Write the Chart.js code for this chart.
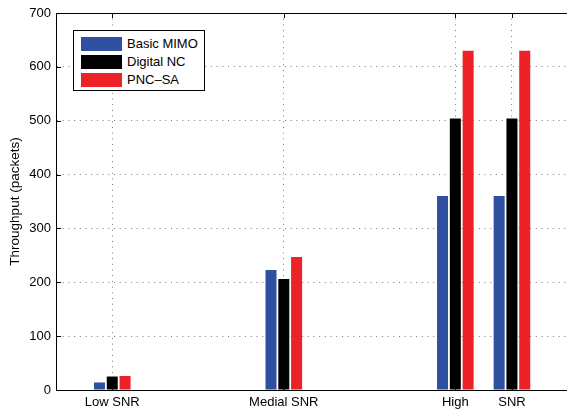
<!DOCTYPE html>
<html>
<head>
<meta charset="utf-8">
<script src="https://cdn.jsdelivr.net/npm/chart.js@4/dist/chart.umd.min.js"></script>
<style>
  body { margin: 0; background: #fff; }
  #wrap { position: relative; width: 567px; height: 412px; }
  #legend {
    position: absolute; left: 73px; top: 30px; width: 130px; height: 59px;
    border: 1px solid #000; background: #fff;
    font: 13px "Liberation Sans", Arial, sans-serif; color: #000;
  }
  #legend .item { position: absolute; left: 7px; height: 14px; }
  #legend .sw { position: absolute; left: 0; top: 0; width: 41px; height: 14px; }
  #legend .txt { position: absolute; left: 46px; top: -1px; white-space: nowrap; line-height: 16px; }
</style>
</head>
<body>
<div id="wrap">
  <canvas id="chart"></canvas>
  <div id="legend"></div>
</div>
<script>
// x positions of the groups and their labels
const groupLabels = ['Low SNR', 'Medial SNR', 'High', 'SNR'];
const groupX = [1, 2, 3, 3.33];

// throughput (packets)
const basicMimo = [14, 223, 360, 360];
const digitalNC = [25, 206, 504, 504];
const pncSa = [26, 247, 630, 630];

const seriesNames = ['Basic MIMO', 'Digital NC', 'PNC\u2013SA'];
const seriesColors = ['#2f4fa1', '#000000', '#ec2227'];

const yTicks = [0, 100, 200, 300, 400, 500, 600, 700];

const FONT = '"Liberation Sans", Arial, sans-serif';

function toPoints(values) {
  return values.map((v, i) => ({ x: groupX[i], y: v }));
}

// frame on top + small inward tick marks like matlab
const framePlugin = {
  id: 'frame',
  afterDraw(chart) {
    const { ctx, chartArea: a, scales } = chart;
    ctx.save();
    ctx.strokeStyle = '#000';
    ctx.lineWidth = 1;
    ctx.beginPath();
    ctx.moveTo(a.left, a.top + 0.5);
    ctx.lineTo(a.right, a.top + 0.5);
    scales.x.ticks.forEach((t, i) => {
      const px = Math.round(scales.x.getPixelForTick(i)) + 0.5;
      ctx.moveTo(px, a.bottom);
      ctx.lineTo(px, a.bottom - 5);
      ctx.moveTo(px, a.top);
      ctx.lineTo(px, a.top + 5);
    });
    scales.y.ticks.forEach((t, i) => {
      const py = Math.round(scales.y.getPixelForTick(i)) + 0.5;
      ctx.moveTo(a.left, py);
      ctx.lineTo(a.left + 5, py);
    });
    ctx.stroke();
    ctx.restore();
  }
};

const chart = new Chart(document.getElementById('chart'), {
  type: 'bar',
  data: {
    datasets: [
      { label: seriesNames[0], data: toPoints(basicMimo), backgroundColor: seriesColors[0] },
      { label: seriesNames[1], data: toPoints(digitalNC), backgroundColor: seriesColors[1] },
      { label: seriesNames[2], data: toPoints(pncSa), backgroundColor: seriesColors[2] }
    ]
  },
  options: {
    responsive: true,
    maintainAspectRatio: false,
    animation: false,
    devicePixelRatio: 1,
    categoryPercentage: 0.678,
    barPercentage: 0.86,
    layout: { padding: { top: 13, right: 0, left: 0, bottom: 0 } },
    plugins: {
      legend: { display: false },
      tooltip: { enabled: false }
    },
    scales: {
      x: {
        type: 'linear',
        min: 0.672,
        max: 3.651,
        offset: false,
        afterBuildTicks: s => { s.ticks = groupX.map(v => ({ value: v })); },
        afterFit: s => { s.height = 22; },
        ticks: {
          autoSkip: false,
          maxRotation: 0,
          padding: 5,
          color: '#000',
          font: { family: FONT, size: 13 },
          callback: (v, i) => groupLabels[i]
        },
        grid: { color: '#777', lineWidth: 1, drawTicks: false, offset: false },
        border: { display: true, color: '#000', width: 1, dash: [1, 4.7] }
      },
      y: {
        min: 0,
        max: 700,
        afterBuildTicks: s => { s.ticks = yTicks.map(v => ({ value: v })); },
        afterFit: s => { s.width = 56; },
        ticks: {
          padding: 5,
          color: '#000',
          font: { family: FONT, size: 13 }
        },
        title: {
          display: true,
          text: 'Throughput (packets)',
          color: '#000',
          font: { family: FONT, size: 13.5 },
          padding: { top: 7, bottom: 0 }
        },
        grid: { color: '#777', lineWidth: 1, drawTicks: false },
        border: { display: true, color: '#000', width: 1, dash: [1, 4.7] }
      }
    }
  },
  plugins: [framePlugin]
});

// html legend built from the datasets
const legendEl = document.getElementById('legend');
chart.data.datasets.forEach((ds, i) => {
  const item = document.createElement('div');
  item.className = 'item';
  item.style.top = (6 + i * 18) + 'px';
  item.innerHTML = '<div class="sw" style="background:' + ds.backgroundColor + '"></div>' +
    '<div class="txt">' + ds.label + '</div>';
  legendEl.appendChild(item);
});
</script>
</body>
</html>
